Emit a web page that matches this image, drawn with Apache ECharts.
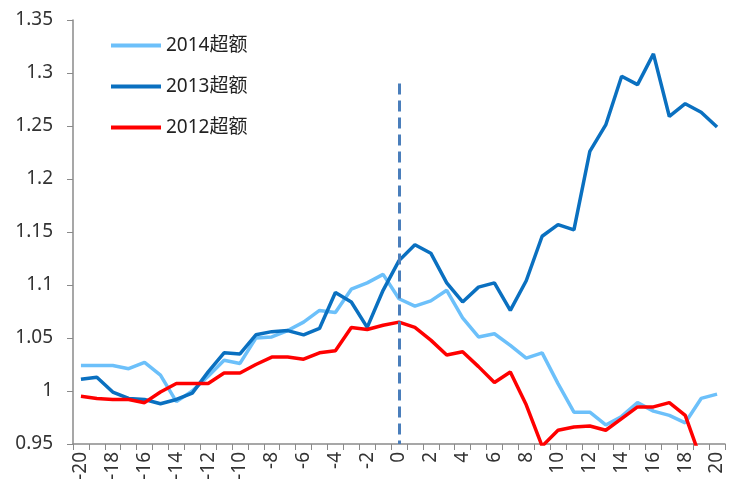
<!DOCTYPE html>
<html><head><meta charset="utf-8">
<script src="https://cdn.jsdelivr.net/npm/echarts@6/dist/echarts.min.js"></script>
<style>html,body{margin:0;padding:0;background:#fff}#c{width:732px;height:498px}</style>
</head><body><div id="c"></div>
<script>
const categories = [];
for (let i = -20; i <= 20; i++) categories.push(String(i));
const s2014 = [1.024,1.024,1.024,1.021,1.027,1.015,0.990,1.000,1.014,1.029,1.026,1.050,1.051,1.057,1.065,1.076,1.074,1.096,1.102,1.110,1.087,1.080,1.085,1.095,1.069,1.051,1.054,1.043,1.031,1.036,1.007,0.980,0.980,0.968,0.976,0.989,0.981,0.977,0.970,0.993,0.997];
const s2013 = [1.011,1.013,0.999,0.993,0.992,0.988,0.992,0.998,1.018,1.036,1.035,1.053,1.056,1.057,1.053,1.059,1.093,1.084,1.060,1.095,1.123,1.138,1.130,1.102,1.084,1.098,1.102,1.076,1.104,1.146,1.157,1.152,1.226,1.251,1.297,1.289,1.318,1.259,1.271,1.263,1.249];
const s2012 = [0.995,0.993,0.992,0.992,0.989,0.999,1.007,1.007,1.007,1.017,1.017,1.025,1.032,1.032,1.030,1.036,1.038,1.060,1.058,1.062,1.065,1.060,1.048,1.034,1.037,1.023,1.008,1.018,0.987,0.948,0.963,0.966,0.967,0.963,0.974,0.985,0.985,0.989,0.977,0.935,null];
const names = ['2014超额','2013超额','2012超额'];
const colors = ['#6CC0FA','#0A70C0','#FF0000'];
const font = "'Noto Sans','Noto Sans CJK SC',sans-serif";
const chart = echarts.init(document.getElementById('c'));
const mk = (name, data, color, extra) => Object.assign({
  name, type: 'line', data, symbol: 'none', smooth: false, clip: true,
  lineStyle: { color, width: 3.5 }, itemStyle: { color }
}, extra || {});
chart.setOption({
  animation: false,
  grid: { left: 73, right: 7, top: 20, bottom: 54, containLabel: false },
  legend: {
    orient: 'vertical', left: 106, top: 31, itemWidth: 50, itemHeight: 4, itemGap: 22,
    icon: 'rect', data: names,
    textStyle: { fontFamily: font, fontSize: 19, color: '#222' }
  },
  xAxis: {
    type: 'category', data: categories, boundaryGap: true,
    axisLine: { lineStyle: { color: '#8a8a8a', width: 1.5 } },
    axisTick: { show: true, interval: 0, length: 6, lineStyle: { color: '#8a8a8a' } },
    axisLabel: { interval: 1, rotate: 90, fontFamily: font, fontSize: 19, color: '#333', margin: 8 }
  },
  yAxis: {
    type: 'value', min: 0.95, max: 1.35, interval: 0.05,
    splitLine: { show: false },
    axisLine: { show: true, lineStyle: { color: '#8a8a8a', width: 1.5 } },
    axisTick: { show: true, length: 6, lineStyle: { color: '#8a8a8a' } },
    axisLabel: { fontFamily: font, fontSize: 19, color: '#333', margin: 20,
      formatter: v => String(parseFloat(v.toFixed(2))) }
  },
  series: [
    mk(names[0], s2014, colors[0]),
    mk(names[1], s2013, colors[1], {
      markLine: {
        silent: true, symbol: 'none', label: { show: false },
        lineStyle: { color: '#4A7EBB', width: 3, type: [11, 6] },
        data: [[{ coord: ['0', 1.29] }, { coord: ['0', 0.95] }]]
      }
    }),
    mk(names[2], s2012, colors[2])
  ]
});
</script></body></html>
